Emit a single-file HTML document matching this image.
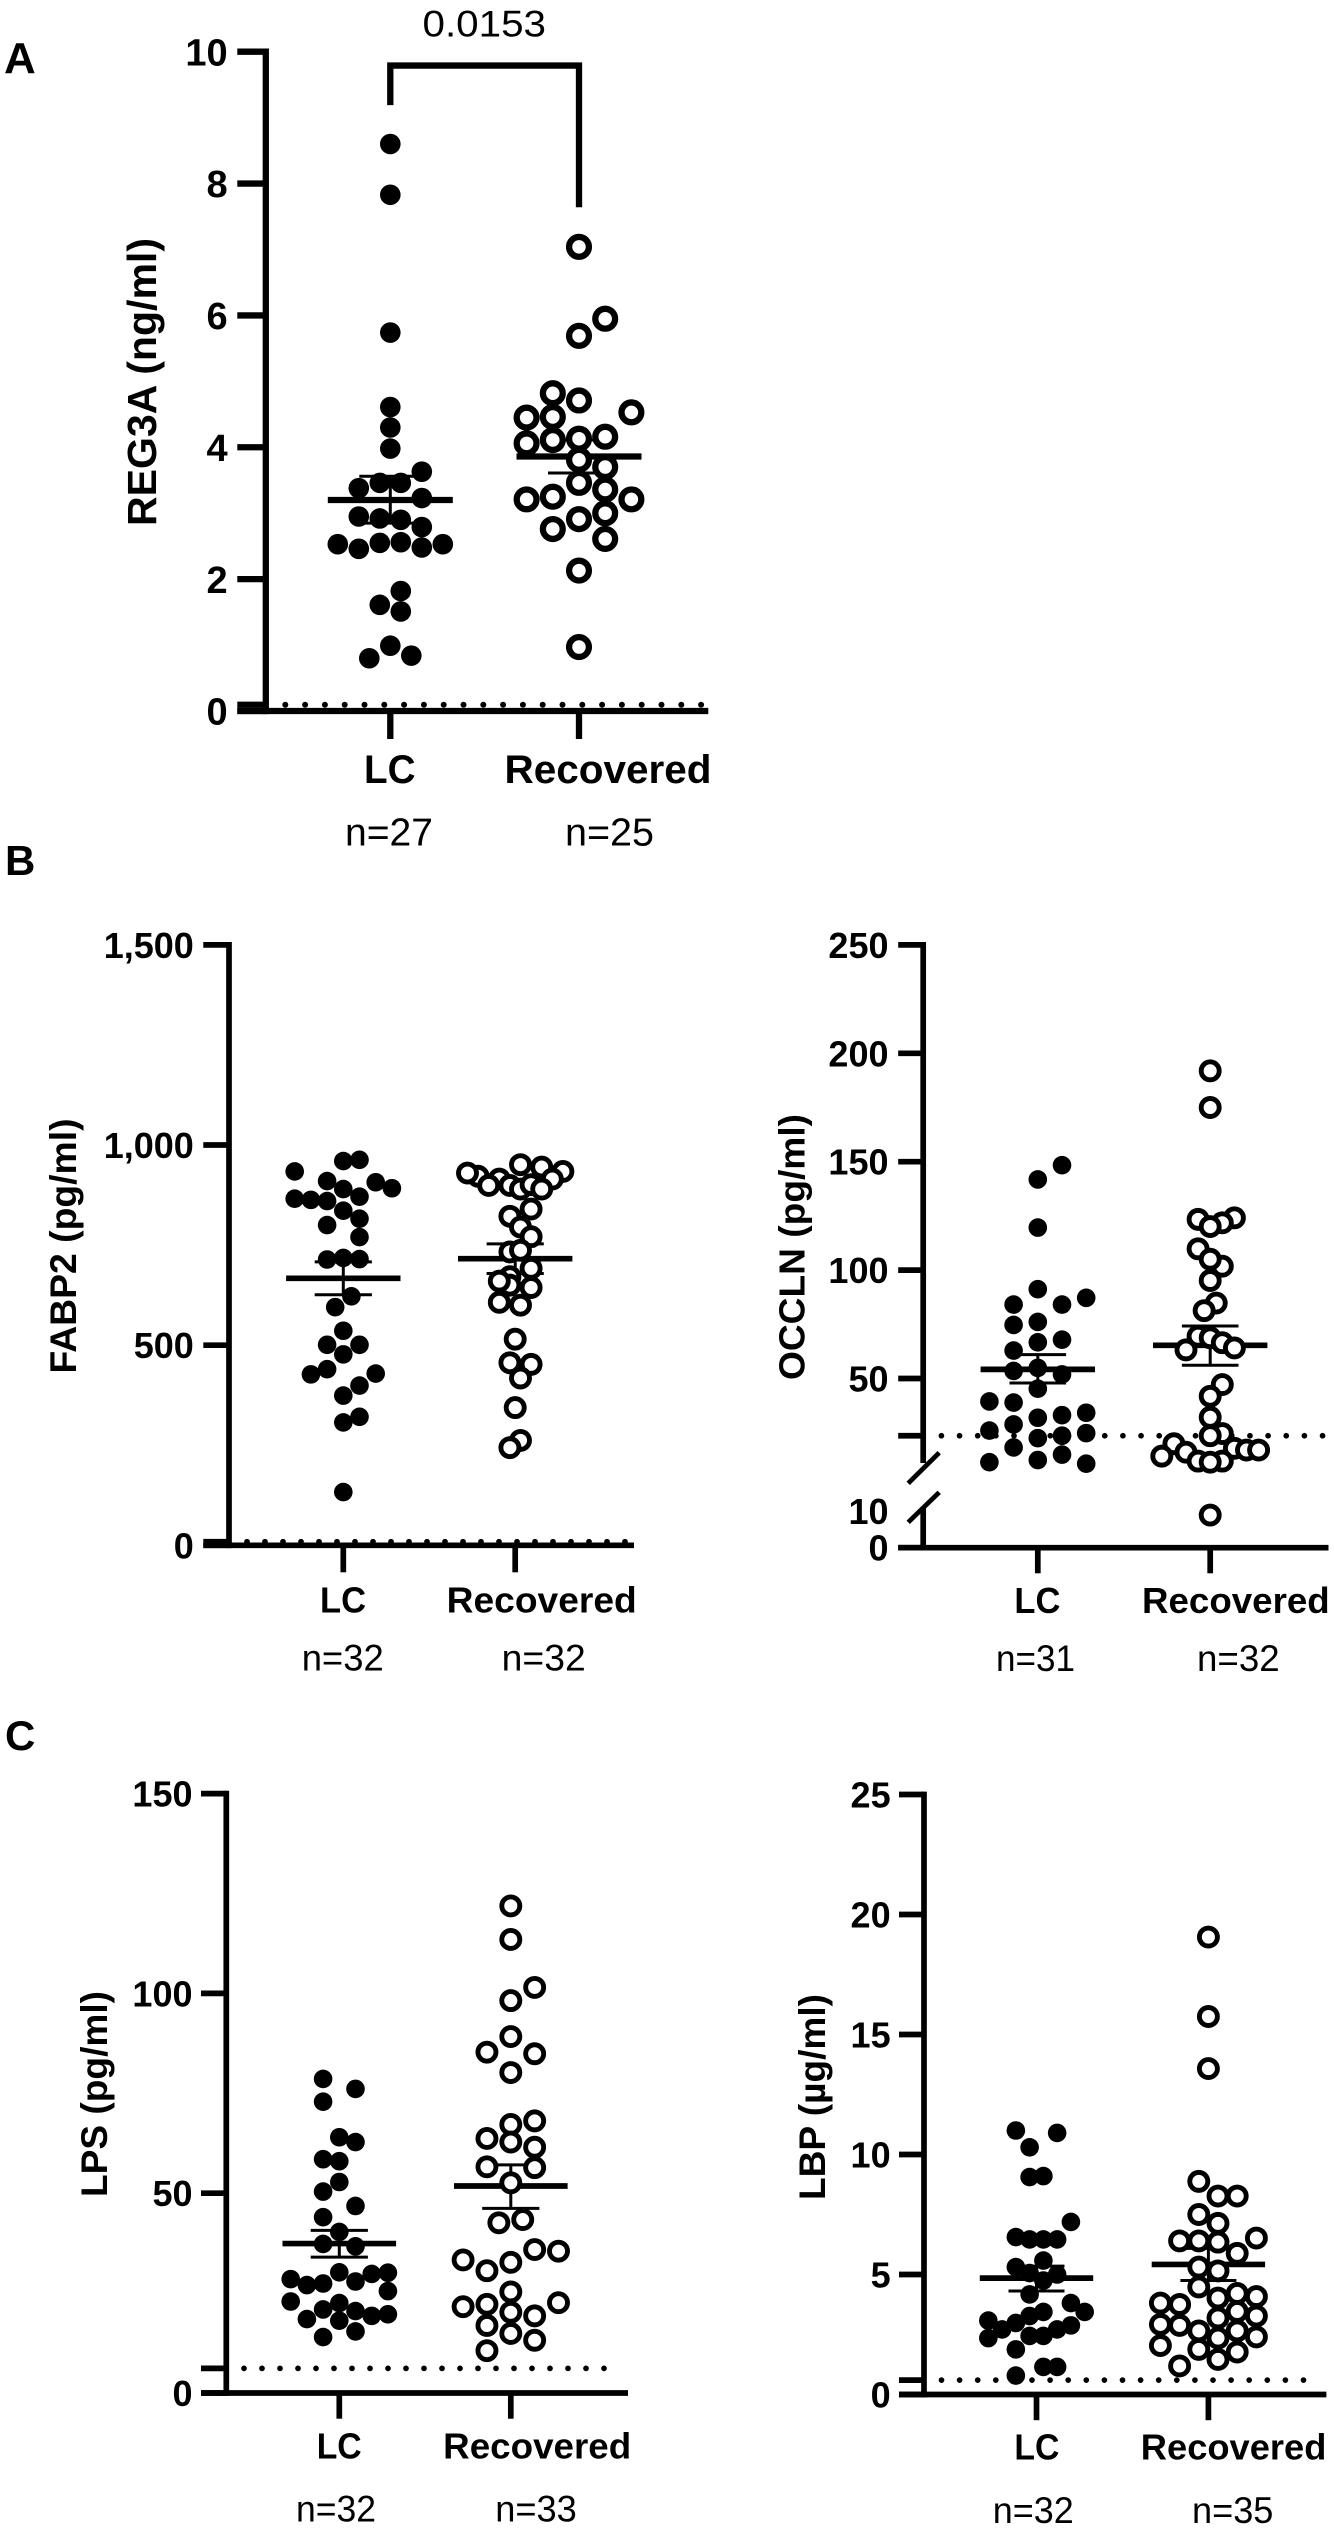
<!DOCTYPE html>
<html lang="en">
<head>
<meta charset="utf-8">
<title>Gut barrier marker scatter plots</title>
<style>
html,body{margin:0;padding:0;background:#fff;}
svg{display:block;}
text{font-family:"Liberation Sans",Arial,sans-serif;fill:#000;}
.b{font-weight:bold;}
</style>
</head>
<body>
<svg id="figure" xmlns="http://www.w3.org/2000/svg" width="1334" height="2534" viewBox="0 0 1334 2534">
<rect x="0" y="0" width="1334" height="2534" fill="#fff"/>

<text class="b" x="4" y="73" font-size="44">A</text>
<text class="b" x="5" y="875" font-size="42">B</text>
<text class="b" x="5" y="1750" font-size="42">C</text>

<text class="b" x="0" y="0" text-anchor="middle" font-size="41" textLength="288" lengthAdjust="spacingAndGlyphs" transform="translate(156 382) rotate(-90)">REG3A (ng/ml)</text>
<text class="b" x="364" y="783" font-size="39.5" textLength="51.5" lengthAdjust="spacingAndGlyphs">LC</text>
<text class="b" x="504.5" y="783" font-size="39.5" textLength="207" lengthAdjust="spacingAndGlyphs">Recovered</text>
<text x="345" y="845.5" font-size="39" textLength="88" lengthAdjust="spacingAndGlyphs">n=27</text>
<text x="565" y="845.5" font-size="39" textLength="89" lengthAdjust="spacingAndGlyphs">n=25</text>
<text x="422.5" y="36.7" font-size="37" textLength="123.5" lengthAdjust="spacingAndGlyphs">0.0153</text>

<text class="b" x="0" y="0" text-anchor="middle" font-size="37" textLength="255" lengthAdjust="spacingAndGlyphs" transform="translate(76 1246) rotate(-90)">FABP2 (pg/ml)</text>
<text class="b" x="320" y="1612.7" font-size="36" textLength="46" lengthAdjust="spacingAndGlyphs">LC</text>
<text class="b" x="446.7" y="1612.7" font-size="36" textLength="190" lengthAdjust="spacingAndGlyphs">Recovered</text>
<text x="301.7" y="1670.7" font-size="37" textLength="82" lengthAdjust="spacingAndGlyphs">n=32</text>
<text x="501.7" y="1670.7" font-size="37" textLength="84" lengthAdjust="spacingAndGlyphs">n=32</text>

<text class="b" x="0" y="0" text-anchor="middle" font-size="36" textLength="266" lengthAdjust="spacingAndGlyphs" transform="translate(804.3 1247) rotate(-90)">OCCLN (pg/ml)</text>
<text class="b" x="1014.4" y="1613" font-size="36" textLength="46" lengthAdjust="spacingAndGlyphs">LC</text>
<text class="b" x="1142" y="1613" font-size="36" textLength="187.7" lengthAdjust="spacingAndGlyphs">Recovered</text>
<text x="996" y="1671" font-size="37" textLength="79" lengthAdjust="spacingAndGlyphs">n=31</text>
<text x="1197" y="1671" font-size="37" textLength="82.7" lengthAdjust="spacingAndGlyphs">n=32</text>

<text class="b" x="0" y="0" text-anchor="middle" font-size="37" textLength="206" lengthAdjust="spacingAndGlyphs" transform="translate(107 2094) rotate(-90)">LPS (pg/ml)</text>
<text class="b" x="316.7" y="2458.3" font-size="36" textLength="45" lengthAdjust="spacingAndGlyphs">LC</text>
<text class="b" x="443.2" y="2458.3" font-size="36" textLength="188" lengthAdjust="spacingAndGlyphs">Recovered</text>
<text x="296" y="2521.7" font-size="37" textLength="80" lengthAdjust="spacingAndGlyphs">n=32</text>
<text x="495.2" y="2521.7" font-size="37" textLength="81.6" lengthAdjust="spacingAndGlyphs">n=33</text>

<text class="b" x="0" y="0" text-anchor="middle" font-size="37" textLength="206" lengthAdjust="spacingAndGlyphs" transform="translate(825 2097) rotate(-90)">LBP (µg/ml)</text>
<text class="b" x="1014.4" y="2459.5" font-size="36" textLength="45" lengthAdjust="spacingAndGlyphs">LC</text>
<text class="b" x="1140.8" y="2459.5" font-size="36" textLength="185.6" lengthAdjust="spacingAndGlyphs">Recovered</text>
<text x="992.8" y="2523" font-size="37" textLength="81" lengthAdjust="spacingAndGlyphs">n=32</text>
<text x="1192" y="2523" font-size="37" textLength="81.4" lengthAdjust="spacingAndGlyphs">n=35</text>
</svg>

<script>
// ---------- Panel A: REG3A ----------
const reg3aTicks = [0, 2, 4, 6, 8, 10];
const reg3aTickLabels = ['0', '2', '4', '6', '8', '10'];
const reg3aLimit = 0.095;
const reg3aLcValues = [8.6,7.83,5.74,4.61,4.30,3.98,3.63,3.46,3.46,3.38,3.23,2.95,2.92,2.90,2.79,2.53,2.46,2.55,2.56,2.48,2.53,1.82,1.61,1.51,0.99,0.80,0.84];
const reg3aLcSlots = [0,0,0,0,0,0,3,-1,1,-3,3,-3,-1,1,3,-5,-3,-1,1,3,5,1,-1,1,0,-2,2];
const reg3aLcStats = [3.2, 2.85, 3.56];
const reg3aRecValues = [7.04,5.95,5.69,4.82,4.71,4.53,4.45,4.46,4.16,4.06,4.11,4.13,3.81,3.70,3.46,3.36,3.21,3.25,3.21,3.00,2.91,2.76,2.61,2.13,0.97];
const reg3aRecSlots = [0,1,0,-1,0,2,-2,-1,1,-2,-1,0,0,1,0,1,-2,-1,2,1,0,-1,1,0,0];
const reg3aRecStats = [3.86, 3.61, 4.11];
const reg3aBracketEnds = [9.19, 7.64, 9.79];

// ---------- Panel B left: FABP2 ----------
const fabp2Ticks = [0, 500, 1000, 1500];
const fabp2TickLabels = ['0', '500', '1,000', '1,500'];
const fabp2Limit = 9;
const fabp2LcValues = [960,963,934,910,907,892,890,871,866,863,860,836,816,800,770,714,718,715,622,595,536,501,501,477,440,427,429,399,374,321,307,133];
const fabp2LcSlots = [0,1,-3,-1,2,3,0,1,-3,-2,-1,0,1,-1,1,-1,0,1,0.5,-0.5,0,-1,1,0,-1,-2,2,1,0,1,0,0];
const fabp2LcStats = [667, 626, 708];
const fabp2RecValues = [922,915,930,934,945,951,915,899,899,890,901,890,840,822,795,771,733,737,692,671,650,660,644,607,600,515,456,452,418,344,262,244];
const fabp2RecSlots = [-3.5,-1.5,-4.5,4.5,2.5,0.5,3.5,-2.5,-0.5,0.5,1.5,2.5,1.5,-0.5,0.5,1.5,-0.5,0.5,1.5,-0.5,-0.5,-1.5,1.5,-1.5,0.5,0,-0.5,1.5,0.5,0,0.5,-0.5];
const fabp2RecStats = [716, 679, 753];

// ---------- Panel B right: OCCLN (broken axis) ----------
const occlnTicks = [0, 10, 50, 100, 150, 200, 250];
const occlnTickLabels = ['0', '10', '50', '100', '150', '200', '250'];
const occlnLimit = 23.6;
const occlnLcValues = [148.4,141.8,119.6,91.2,87.2,84.1,84.1,74.7,76.1,66.7,67.9,62.9,53.5,54.9,51.9,45.3,39.4,38.9,33.1,34.2,31.9,28.8,26,22.5,23.6,24.8,18.2,14.9,11.4,12.4,10.7];
const occlnLcSlots = [1,0,0,0,2,-1,1,-1,0,0,1,-1,-1,0,1,0,-2,-1,1,2,0,-1,-2,0,1,2,-1,1,-2,0,2];
const occlnLcStats = [54.2, 47.9, 61];
const occlnRecValues = [191.9,175,124.1,123.4,121.8,120.1,109.8,101.8,105,95.2,84.8,81.3,69.5,68.8,66.5,63.2,64.1,47.2,41.8,32.1,24.6,23.6,19.9,17.8,17,17,16,14.2,11.9,11.9,11.4,8.9];
const occlnRecSlots = [0,0,2,-1,1,0,-1,1,0,0,0.5,-0.5,-1,0,1,-2,2,1,0,0,1,0,-3,2,3,4,-2,-4,-1,1,0,0];
const occlnRecStats = [65.3, 56.1, 74.2];

// ---------- Panel C left: LPS ----------
const lpsTicks = [0, 50, 100, 150];
const lpsTickLabels = ['0', '50', '100', '150'];
const lpsLimit = 6.17;
const lpsLcValues = [78.6,76.1,72.9,64,62.8,58.5,58,52.8,50.4,46.8,44,40.3,37.3,36.7,30.2,29.8,30.1,28.5,27,27.4,27.9,25.5,22.9,22.5,20.9,20.5,19.3,19.7,18.5,18.1,15.4,14];
const lpsLcSlots = [-1,1,-1,0,1,-1,0,0,-1,1,-1,0,-1,1,0,2,3,-3,-2,-1,1,3,-3,0,-1,1,2,3,-2,0,1,-1];
const lpsLcStats = [37.4, 34, 40.7];
const lpsRecValues = [121.9,113.5,101.5,98.2,89.2,85.3,84.9,80.2,68.1,67.2,63.7,62.8,61.5,56.6,56.4,52.6,42.6,43.4,35.9,35.5,33.3,32.7,30.6,25.3,22.6,21.6,22.2,20.2,19.3,16.9,14.9,13.2,10.6];
const lpsRecSlots = [0,0,1,0,0,-1,1,0,1,0,-1,0,1,-1,1,0,-0.5,0.5,1,2,-2,0,-1,0,2,-2,-1,0,1,-1,0,1,-1];
const lpsRecStats = [51.8, 46.2, 57.1];

// ---------- Panel C right: LBP ----------
const lbpTicks = [0, 5, 10, 15, 20, 25];
const lbpTickLabels = ['0', '5', '10', '15', '20', '25'];
const lbpLimit = 0.6;
const lbpLcValues = [11,10.9,10.3,9.06,9.1,7.19,6.56,6.46,6.46,6.46,5.58,5.31,5.06,5,4.75,4.17,3.81,3.44,3.44,3.27,2.98,3.08,2.71,2.88,2.71,2.35,2.44,2.44,1.88,1.15,1.15,0.79];
const lbpLcSlots = [-1.5,1.5,-0.5,-0.5,0.5,2.5,-1.5,-0.5,0.5,1.5,0.5,-1.5,-0.5,1.5,0.5,-0.5,2.5,3.5,0.5,-0.5,-1.5,-3.5,-2.5,2.5,1.5,-3.5,-0.5,0.5,-1.5,0.5,1.5,-1.5];
const lbpLcStats = [4.85, 4.31, 5.35];
const lbpRecValues = [19.06,15.75,13.58,8.88,8.27,8.27,7.5,7.13,6.52,6.4,6.4,6.35,5.88,5.31,5.15,4.48,4.21,4.02,4.08,3.81,3.75,3.46,3.19,3.27,2.92,2.88,2.65,2.65,2.35,2.4,2.04,1.88,1.77,1.46,1.19];
const lbpRecSlots = [0,0,0,-0.5,0.5,1.5,-0.5,0.5,2.5,-1.5,-0.5,0.5,1.5,-0.5,0.5,-0.5,1.5,0.5,2.5,-2.5,-1.5,1.5,0.5,2.5,-2.5,-1.5,-0.5,1.5,0.5,2.5,-2.5,-0.5,1.5,0.5,-1.5];
const lbpRecStats = [5.42, 4.75, 6.09];

// ---------- Layout (separate from data) ----------
const panels = [
  {key:'reg3a', axisX:265.8, tickLeft:237.3, xEnd:708.3, c:[390.3,579], top:51.7, bottom:711, max:10,
   ticks:reg3aTicks, labels:reg3aTickLabels, limit:reg3aLimit, labelRight:227.7, font:38, thick:6.3, tickLen:28,
   lc:{v:reg3aLcValues,s:reg3aLcSlots,st:reg3aLcStats,u:10.5}, rec:{v:reg3aRecValues,s:reg3aRecSlots,st:reg3aRecStats,u:26.2},
   meanHalf:62.5, capHalf:31, meanThick:6.3, dotFrom:285.3, dotTo:702, dotGap:19.8, dotSize:6, r:10.3, openR:9.9, openStroke:6.3},
  {key:'fabp2', axisX:229, tickLeft:203.3, xEnd:634, c:[343.3,515.2], top:944.9, bottom:1545.3, max:1500,
   ticks:fabp2Ticks, labels:fabp2TickLabels, limit:fabp2Limit, labelRight:193.8, font:36, thick:5.7, tickLen:27,
   lc:{v:fabp2LcValues,s:fabp2LcSlots,st:fabp2LcStats,u:16.2}, rec:{v:fabp2RecValues,s:fabp2RecSlots,st:fabp2RecStats,u:10.6},
   meanHalf:57.2, capHalf:28.6, meanThick:5.7, dotFrom:247, dotTo:627, dotGap:18, dotSize:5.7, r:9.3, openR:9, openStroke:4.9},
  {key:'occln', axisX:923.2, tickLeft:898.2, xEnd:1328.5, c:[1037.8,1210.2], top:944.9, bottom:1547.7, max:250, broken:true,
   ticks:occlnTicks, labels:occlnTickLabels, limit:occlnLimit, labelRight:888.5, font:36, thick:5.7, tickLen:25.6,
   lc:{v:occlnLcValues,s:occlnLcSlots,st:occlnLcStats,u:24.2}, rec:{v:occlnRecValues,s:occlnRecSlots,st:occlnRecStats,u:12.1},
   meanHalf:57.2, capHalf:28.3, meanThick:5.7, dotFrom:941.4, dotTo:1325, dotGap:18.15, dotSize:5.7, r:9.3, openR:9, openStroke:4.9},
  {key:'lps', axisX:226.3, tickLeft:201, xEnd:628, c:[339.3,510.8], top:1793.6, bottom:2393, max:150,
   ticks:lpsTicks, labels:lpsTickLabels, limit:lpsLimit, labelRight:192.5, font:36, thick:5.7, tickLen:25.7,
   lc:{v:lpsLcValues,s:lpsLcSlots,st:lpsLcStats,u:16.2}, rec:{v:lpsRecValues,s:lpsRecSlots,st:lpsRecStats,u:23.85},
   meanHalf:56.8, capHalf:28.6, meanThick:5.7, dotFrom:244, dotTo:612, dotGap:18, dotSize:5.7, r:9.3, openR:9, openStroke:4.9},
  {key:'lbp', axisX:924, tickLeft:899, xEnd:1326.4, c:[1036.5,1208.4], top:1794.5, bottom:2394.5, max:25,
   ticks:lbpTicks, labels:lbpTickLabels, limit:lbpLimit, labelRight:890.6, font:36, thick:5.7, tickLen:25.7,
   lc:{v:lbpLcValues,s:lbpLcSlots,st:lbpLcStats,u:13.76}, rec:{v:lbpRecValues,s:lbpRecSlots,st:lbpRecStats,u:19.2},
   meanHalf:56.7, capHalf:28, meanThick:5.7, dotFrom:941.5, dotTo:1318, dotGap:18.1, dotSize:5.7, r:9.3, openR:9, openStroke:4.9}
];

// ---------- Axis functions ----------
const SVG_NS = 'http://www.w3.org/2000/svg';
const figure = document.getElementById('figure');

function yScale(p, value) {
  if (p.broken) {
    // OCCLN: lower segment 0-10, upper segment above the break
    if (value <= 10) return p.bottom - value * 3.67;
    return p.top + (p.max - value) * 2.168;
  }
  return p.bottom - (value / p.max) * (p.bottom - p.top);
}
function xScale(p, groupIndex, slot, unit) {
  return p.c[groupIndex] + slot * unit;
}

function seg(x1, y1, x2, y2, w) {
  const el = document.createElementNS(SVG_NS, 'line');
  el.setAttribute('x1', x1);
  el.setAttribute('y1', y1);
  el.setAttribute('x2', x2);
  el.setAttribute('y2', y2);
  el.setAttribute('stroke', '#000');
  el.setAttribute('stroke-width', w);
  figure.appendChild(el);
  return el;
}

function drawPanel(p) {
  const y0 = yScale(p, 0);
  const yTop = yScale(p, p.max);

  // y axis
  if (p.broken) {
    const upper = seg(p.axisX, yTop - p.thick / 2, p.axisX, 1463, p.thick);
    
    
    const lower = seg(p.axisX, 1507, p.axisX, y0, p.thick);
    
    
    const breakA = seg(p.axisX - 15, 1483.3, p.axisX + 16, 1452.7, 4.8);
    
    
    const breakB = seg(p.axisX - 15, 1522.3, p.axisX + 16, 1492.3, 4.8);
    
    
  } else {
    const axis = seg(p.axisX, yTop - p.thick / 2, p.axisX, y0 + p.thick / 2, p.thick);
    
    
  }

  // x axis
  const xAxis = seg(p.tickLeft, y0, p.xEnd, y0, p.thick);
  
  

  // y ticks and labels
  p.ticks.forEach(function (t, i) {
    const ty = yScale(p, t);
    if (!(p.broken && t === 10)) {
      const tick = seg(p.tickLeft, ty, p.axisX, ty, p.thick);
      
      
    }
    const label = document.createElementNS(SVG_NS, 'text');
    label.setAttribute('x', p.labelRight);
    label.setAttribute('y', ty + p.font * 0.36);
    label.setAttribute('text-anchor', 'end');
    label.setAttribute('font-size', p.font);
    label.setAttribute('class', 'b');
    
    
    label.textContent = p.labels[i];
    figure.appendChild(label);
  });

  // limit-of-detection tick and dotted line
  const ly = yScale(p, p.limit);
  const limitTick = seg(p.tickLeft, ly, p.axisX, ly, p.thick);
  
  
  const dotted = seg(p.dotFrom, ly, p.dotTo, ly, p.dotSize);
  dotted.setAttribute('stroke-linecap', 'round');
  dotted.setAttribute('stroke-dasharray', '0 ' + p.dotGap);
  
  

  // x ticks
  p.c.forEach(function (cx) {
    const xt = seg(cx, y0, cx, y0 + p.tickLen, p.thick);
    
    
  });

  drawGroup(p, 0, p.lc, true, 'lc');
  drawGroup(p, 1, p.rec, false, 'recovered');
}

function drawGroup(p, gi, g, filled, groupName) {
  const cx = p.c[gi];
  const ym = yScale(p, g.st[0]);
  const yl = yScale(p, g.st[1]);
  const yu = yScale(p, g.st[2]);

  const stem = seg(cx, yu, cx, yl, 3);
  
  
  const capU = seg(cx - p.capHalf, yu, cx + p.capHalf, yu, 3);
  
  
  const capL = seg(cx - p.capHalf, yl, cx + p.capHalf, yl, 3);
  
  
  const mean = seg(cx - p.meanHalf, ym, cx + p.meanHalf, ym, p.meanThick);
  
  

  g.v.forEach(function (val, i) {
    const dot = document.createElementNS(SVG_NS, 'circle');
    dot.setAttribute('cx', xScale(p, gi, g.s[i], g.u));
    dot.setAttribute('cy', yScale(p, val));
    if (filled) {
      dot.setAttribute('r', p.r);
      dot.setAttribute('fill', '#000');
    } else {
      dot.setAttribute('r', p.openR);
      dot.setAttribute('fill', '#fff');
      dot.setAttribute('stroke', '#000');
      dot.setAttribute('stroke-width', p.openStroke);
    }
    
    
    figure.appendChild(dot);
  });
}

panels.forEach(drawPanel);

// Significance bracket for panel A
(function () {
  const p = panels[0];
  const yBar = yScale(p, reg3aBracketEnds[2]);
  const bracket = document.createElementNS(SVG_NS, 'polyline');
  bracket.setAttribute('points',
    p.c[0] + ',' + yScale(p, reg3aBracketEnds[0]) + ' ' +
    p.c[0] + ',' + yBar + ' ' +
    p.c[1] + ',' + yBar + ' ' +
    p.c[1] + ',' + yScale(p, reg3aBracketEnds[1]));
  bracket.setAttribute('fill', 'none');
  bracket.setAttribute('stroke', '#000');
  bracket.setAttribute('stroke-width', 6.3);
  
  
  figure.appendChild(bracket);
})();
</script>
</body>
</html>
